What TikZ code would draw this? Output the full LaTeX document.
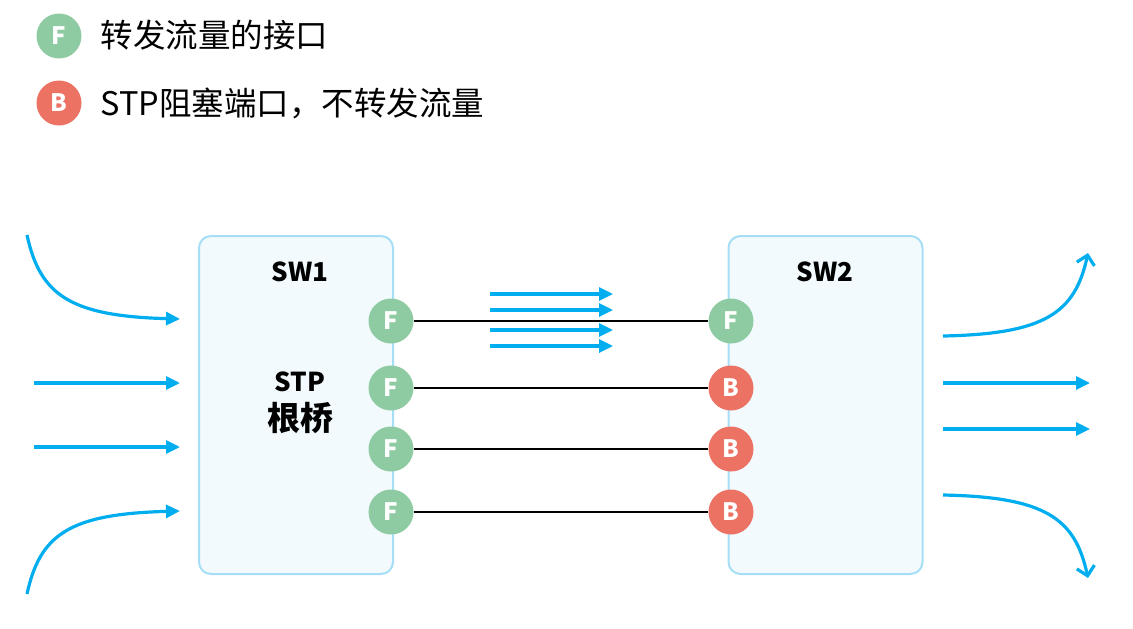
\documentclass[tikz,border=0pt]{standalone}
\usepackage{fontspec}
\setmainfont{Noto Sans CJK SC}
\usetikzlibrary{arrows.meta}
\definecolor{flowblue}{RGB}{0,174,239}
\definecolor{portgreen}{RGB}{143,203,162}
\definecolor{portred}{RGB}{236,114,100}
\definecolor{swfill}{RGB}{242,250,254}
\definecolor{swdraw}{RGB}{166,222,245}

\begin{document}
\begin{tikzpicture}[x=1pt,y=-1pt,font=\fontsize{32.5pt}{38pt}\selectfont]
% Styles: switch boxes, ports, links and traffic arrows
\tikzstyle{switch}=[draw=swdraw,fill=swfill,line width=2pt,rounded corners=12pt,minimum width=194pt,minimum height=338pt,inner sep=0]
\tikzstyle{fwd port}=[circle,fill=portgreen,text=white,font=\fontsize{24pt}{24pt}\selectfont\bfseries,minimum size=45pt,inner sep=0]
\tikzstyle{blk port}=[fwd port,fill=portred]
\tikzstyle{sw label}=[font=\fontsize{26pt}{30pt}\selectfont\bfseries]
\tikzstyle{link}=[line width=2.8pt]
\tikzstyle{flow}=[draw=flowblue,line width=3.2pt,-{Triangle[length=14pt,width=13pt]}]
\tikzstyle{flow out}=[draw=flowblue,line width=3.2pt,-{Straight Barb[length=9pt,width=18pt,line width=3.2pt]}]
\useasboundingbox (0,0) rectangle (1133,629);
% Legend
\node(lgF)[fwd port] at (59,36) {F};
\node(lgFtext)[anchor=west] at (97,35) {转发流量的接口};
\node(lgB)[blk port] at (59,103) {B};
\node(lgBtext)[anchor=west] at (97,103) {STP阻塞端口，不转发流量};
% The switches
\node(sw1)[switch] at (296,405) {};
\node(sw2)[switch] at (825.5,405) {};
\node(sw1name)[sw label] at (300,272) {SW1};
\node(sw2name)[sw label] at (825,272) {SW2};
\node(stp)[sw label] at (300,382) {STP};
\node(root)[font=\fontsize{33pt}{36pt}\selectfont\bfseries] at (300,418) {根桥};
% Ports
\node(p11)[fwd port] at (391,321) {F};
\node(p12)[fwd port] at (391,388) {F};
\node(p13)[fwd port] at (391,449) {F};
\node(p14)[fwd port] at (391,512) {F};
\node(p21)[fwd port] at (731,321) {F};
\node(p22)[blk port] at (731,388) {B};
\node(p23)[blk port] at (731,449) {B};
\node(p24)[blk port] at (731,512) {B};
% Links
\draw[link](p11)--(p21);
\draw[link](p12)--(p22);
\draw[link](p13)--(p23);
\draw[link](p14)--(p24);
% Traffic on the forwarding link
\foreach \y [count=\i] in {294,310,330,346}{
  \coordinate(m\i a) at (490,\y);
  \coordinate(m\i b) at (613,\y);
  \draw[flow](m\i a)--(m\i b);
}
% Traffic into SW1
\coordinate(in1a) at (27,235);  \coordinate(in1b) at (180,319);
\coordinate(in2a) at (34,383);  \coordinate(in2b) at (180,383);
\coordinate(in3a) at (34,447);  \coordinate(in3b) at (180,447);
\coordinate(in4a) at (27,594);  \coordinate(in4b) at (180,511);
\draw[flow](in1a)..controls(40,295)and(70,316)..(in1b);
\draw[flow](in2a)--(in2b);
\draw[flow](in3a)--(in3b);
\draw[flow](in4a)..controls(40,534)and(70,514)..(in4b);
% Traffic out of SW2
\coordinate(out1a) at (943,336);  \coordinate(out1b) at (1088,253);
\coordinate(out2a) at (943,383);  \coordinate(out2b) at (1090,383);
\coordinate(out3a) at (943,429);  \coordinate(out3b) at (1090,429);
\coordinate(out4a) at (943,495);  \coordinate(out4b) at (1088,578);
\draw[flow out](out1a)..controls(1045,334)and(1075,313)..(out1b);
\draw[flow](out2a)--(out2b);
\draw[flow](out3a)--(out3b);
\draw[flow out](out4a)..controls(1045,497)and(1075,518)..(out4b);
\end{tikzpicture}
\end{document}
